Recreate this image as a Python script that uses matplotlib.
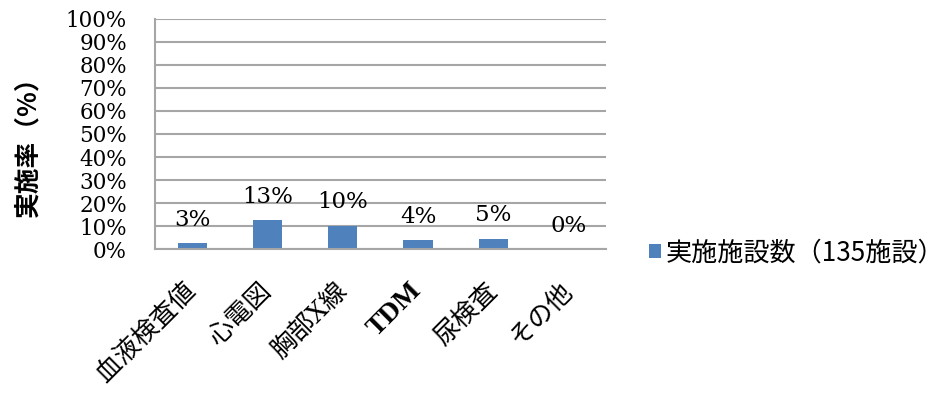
import matplotlib
matplotlib.use("Agg")
import matplotlib.pyplot as plt
import numpy as np

categories = ["血液検査値", "心電図", "胸部X線", "TDM", "尿検査", "その他"]
rates = [2.6, 12.6, 10.2, 4.0, 4.6, 0.0]
yticks = list(range(0, 101, 10))
ytick_labels = [f"{v}%" for v in yticks]
series_name = "実施施設数（135施設）"
ylabel = "実施率（%）"

BAR = "#4f81bd"
GRID = "#a6a6a6"
SERIF = ["DejaVu Serif", "Noto Sans CJK JP"]
SANS = ["Noto Sans CJK JP", "DejaVu Sans"]

fig = plt.figure(figsize=(9.47, 3.94), dpi=100)
ax = fig.add_axes([0.1634, 0.3673, 0.4766, 0.5852])

x = np.arange(len(categories))
bars = ax.bar(x, rates, width=0.39, color=BAR, label=series_name, zorder=3)

ax.set_xlim(-0.5, len(categories) - 0.5)
ax.set_ylim(0, 100)
ax.set_yticks(yticks)
ax.set_yticklabels(ytick_labels, family=SERIF, fontsize=15.5)
ax.tick_params(axis="y", length=0, pad=20)
ax.yaxis.grid(True, color=GRID, linewidth=1.5, zorder=0)

ax.set_xticks(x)
ax.set_xticklabels(categories, rotation=45, ha="right", va="center",
                   rotation_mode="anchor", family=SERIF, fontsize=18.5)
for lbl in ax.get_xticklabels():
    if lbl.get_text() == "TDM":
        lbl.set_fontfamily(["Liberation Serif"])
        lbl.set_fontweight("bold")
        lbl.set_fontsize(20)
ax.tick_params(axis="x", length=0, pad=27)

for side in ("top", "right"):
    ax.spines[side].set_visible(False)
for side in ("left", "bottom"):
    ax.spines[side].set_color(GRID)
    ax.spines[side].set_linewidth(1.5)
    ax.spines[side].set_zorder(4)

for xi, v in zip(x, rates):
    ax.annotate(f"{v:.0f}%", (xi, v), xytext=(0, 12.6), textcoords="offset points",
                ha="center", va="baseline", family=SERIF, fontsize=16.5, zorder=5)

fig.text(0.029, 1 - 140 / 394, ylabel, rotation=90, ha="center", va="center",
         family=SANS, fontsize=18.5, fontweight="bold")

leg = ax.legend(loc="center left", bbox_to_anchor=(649 / 947, 1 - 253 / 394),
                bbox_transform=fig.transFigure, frameon=False,
                borderaxespad=0, borderpad=0,
                handlelength=0.45, handleheight=0.45, handletextpad=0.2,
                prop={"family": SANS, "size": 18.8})

fig.savefig("out.png", dpi=100)
